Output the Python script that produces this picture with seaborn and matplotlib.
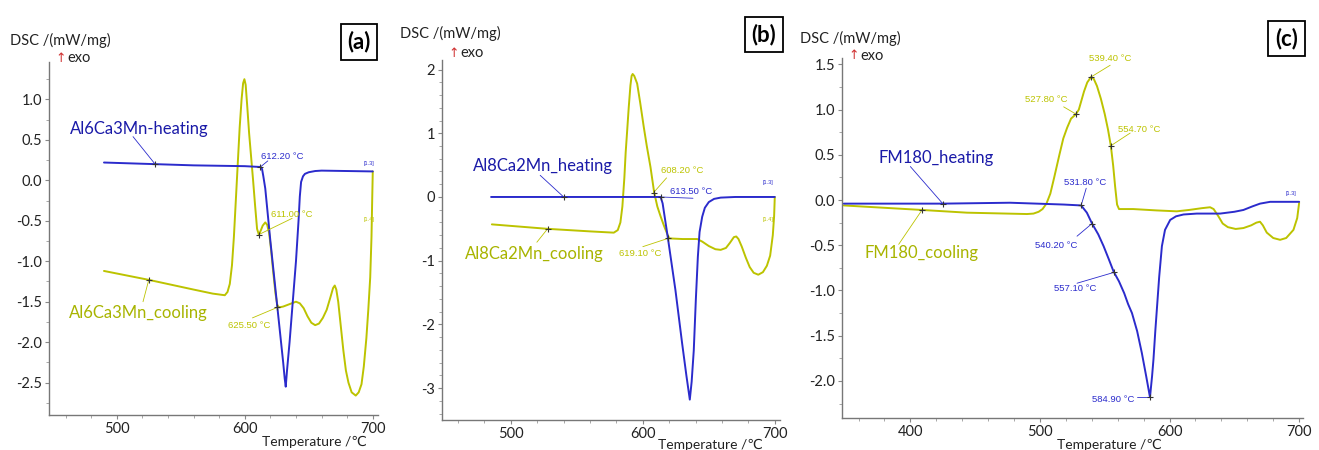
import matplotlib
matplotlib.use("Agg")
import matplotlib.pyplot as plt
import seaborn as sns
from matplotlib.ticker import MultipleLocator

# ---------------- data ----------------
# Panel (a) Al6Ca3Mn
a_heat_T = [490, 500, 520, 540, 560, 580, 600, 612.2, 613.5, 614.5, 616, 620, 624, 628, 630, 631.2, 632,
            633, 635, 637.5, 640, 642, 643, 644, 645.5, 647, 650, 655, 660, 680, 700]
a_heat_dsc = [0.22, 0.215, 0.205, 0.195, 0.185, 0.18, 0.175, 0.165, 0.14, 0.05, -0.1, -0.75, -1.35, -1.95, -2.25, -2.45, -2.55,
              -2.35, -2.0, -1.5, -1.0, -0.5, -0.2, -0.02, 0.05, 0.08, 0.1, 0.115, 0.12, 0.115, 0.11]
a_cool_T = [490, 525, 560, 575, 584.4, 586.5, 588.3, 590, 591.5, 593, 594.5, 596, 597.5, 598.7, 599.7,
            600.7, 602, 603.4, 605, 606.5, 608, 609.6, 611, 612.5, 614, 616, 617.5, 619, 620.5, 622, 624,
            625.5, 627, 630, 635, 640, 643, 646, 649, 652, 655, 658, 661, 664, 667, 669, 670.3, 671.5,
            673, 675, 677, 679, 681, 683.5, 686.7, 689, 691.2, 693, 695, 696.5, 698, 699, 699.6, 700]
a_cool_dsc = [-1.12, -1.23, -1.35, -1.4, -1.42, -1.38, -1.28, -1.05, -0.7, -0.25, 0.2, 0.65, 1.0, 1.2, 1.25,
              1.18, 0.9, 0.58, 0.28, 0.0, -0.3, -0.6, -0.67, -0.62, -0.56, -0.52, -0.55, -0.65, -0.85, -1.1, -1.4,
              -1.55, -1.57, -1.56, -1.53, -1.5, -1.52, -1.58, -1.68, -1.76, -1.79, -1.77, -1.7, -1.6, -1.44, -1.33, -1.3, -1.35,
              -1.5, -1.8, -2.1, -2.35, -2.5, -2.62, -2.66, -2.62, -2.52, -2.3, -1.95, -1.6, -1.2, -0.7, -0.2, 0.11]

# Panel (b) Al8Ca2Mn
b_heat_T = [485, 520, 560, 600, 613.5, 615, 618.9, 624.7, 629.8, 633, 635.6, 637, 638.6, 640.2, 641.7,
            643, 645, 647, 650, 654, 659, 670, 700]
b_heat_dsc = [0.0, 0.0, 0.0, 0.0, 0.0, -0.1, -0.63, -1.46, -2.3, -2.8, -3.18, -2.9, -2.41, -1.6, -0.94,
              -0.55, -0.31, -0.17, -0.08, -0.03, -0.01, 0.0, 0.0]
b_cool_T = [485.6, 527.8, 560, 578, 581, 583, 584.5, 586, 587, 588, 589.3, 590.6, 591.5, 592.3, 593.5,
            595.7, 598, 600.7, 603, 605.8, 608.6, 611, 613.4, 616, 618.5, 620, 630, 641.2, 645, 650, 655,
            659, 663, 666, 669, 670.8, 672.5, 675, 678, 681, 684, 687.5, 691, 694, 696.5, 698.5, 699.5, 700]
b_cool_dsc = [-0.43, -0.5, -0.54, -0.56, -0.52, -0.4, -0.15, 0.3, 0.7, 1.0, 1.4, 1.75, 1.9, 1.93, 1.9,
              1.78, 1.48, 1.1, 0.8, 0.47, 0.07, -0.15, -0.3, -0.45, -0.58, -0.65, -0.66, -0.66, -0.7, -0.77, -0.82,
              -0.83, -0.8, -0.72, -0.63, -0.62, -0.66, -0.78, -0.95, -1.1, -1.19, -1.22, -1.18, -1.08, -0.92, -0.6, -0.3, 0.0]

# Panel (c) FM180
c_heat_T = [348.6, 425, 477, 518.2, 531.8, 536.2, 540.2, 545, 549.1, 553, 556.8, 561, 565, 568, 571, 575,
            578.6, 582, 584.9, 586.5, 587.6, 589, 590.2, 592, 594.1, 596.5, 600.5, 605, 610.8, 621, 639, 650,
            657, 664, 669.8, 677.6, 700]
c_heat_dsc = [-0.04, -0.04, -0.03, -0.05, -0.06, -0.14, -0.26, -0.38, -0.51, -0.65, -0.79, -0.9, -1.03, -1.15, -1.25, -1.45,
              -1.69, -1.95, -2.18, -1.95, -1.76, -1.45, -1.21, -0.85, -0.51, -0.33, -0.22, -0.18, -0.16, -0.15, -0.15, -0.13,
              -0.11, -0.07, -0.04, -0.02, -0.02]
c_cool_T = [348.6, 409, 443.7, 490, 495, 499, 502, 505, 508, 511, 515, 518, 521, 524, 527.8, 530, 532, 534,
            536.5, 539.4, 541.5, 544, 547, 550, 552.5, 554.7, 556.5, 558, 559.5, 561, 572, 590, 605.6, 615, 625,
            631.3, 634, 637.7, 641, 645, 651, 657, 663, 667, 669.8, 672, 675, 680, 685.3, 690, 695.6, 698.5, 700]
c_cool_dsc = [-0.06, -0.11, -0.14, -0.155, -0.15, -0.13, -0.1, -0.04, 0.07, 0.25, 0.5, 0.68, 0.8, 0.9, 0.95, 1.0, 1.1, 1.2,
              1.3, 1.36, 1.34, 1.26, 1.12, 0.95, 0.78, 0.6, 0.38, 0.15, -0.05, -0.1, -0.1, -0.115, -0.125, -0.11, -0.09,
              -0.08, -0.1, -0.18, -0.26, -0.3, -0.32, -0.31, -0.28, -0.25, -0.24, -0.28, -0.36, -0.42, -0.44, -0.42, -0.33, -0.2, -0.03]

# annotated characteristic temperatures: (T, DSC at point, text x, text y, leader end x, leader end y)
a_heat_marks = [(612.2, 0.165, 612.8, 0.30, 618, 0.24)]
a_cool_marks = [(611.0, -0.67, 620.8, -0.42, 637, -0.47), (625.5, -1.57, 587, -1.79, 606, -1.70)]
b_heat_marks = [(613.5, 0.0, 620.4, 0.08, 638, -0.02)]
b_cool_marks = [(608.2, 0.07, 614.1, 0.41, 618, 0.3), (619.1, -0.65, 581.7, -0.89, 600, -0.78)]
c_heat_marks = [(531.8, -0.06, 518.2, 0.19, 535.7, 0.13), (540.2, -0.26, 495.9, -0.50, 528.6, -0.40),
                (557.1, -0.80, 510.5, -0.98, 528.6, -0.92), (584.9, -2.18, 540.1, -2.20, 574.8, -2.18)]
c_cool_marks = [(539.4, 1.36, 537.5, 1.57, 554.2, 1.49), (527.8, 0.95, 488.2, 1.11, 518.3, 1.03),
                (554.7, 0.60, 559.9, 0.78, 569.6, 0.74)]

series_names = {
    "a": ("Al6Ca3Mn-heating", "Al6Ca3Mn_cooling"),
    "b": ("Al8Ca2Mn_heating", "Al8Ca2Mn_cooling"),
    "c": ("FM180_heating", "FM180_cooling"),
}

BLUE = "#2b2bcc"
YEL = "#bcc300"

sns.set_style("ticks")
plt.rcParams["font.family"] = ["Lato", "DejaVu Sans"]

fig = plt.figure(figsize=(13.19, 4.5), dpi=100)

panels = [
    dict(key="a", rect=[0.0371, 0.0778, 0.2494, 0.784], xlim=(447, 704), ylim=(-2.9, 1.46),
         yticks=[1.0, 0.5, 0.0, -0.5, -1.0, -1.5, -2.0, -2.5], yfmt="{:.1f}", yminor=0.25,
         xticks=[500, 600, 700],
         heat=(a_heat_T, a_heat_dsc), cool=(a_cool_T, a_cool_dsc),
         hm=a_heat_marks, cm=a_cool_marks,
         hlab=(463.3, 0.64, 512.7, 0.54, 529.7, 0.205), clab=(462.5, -1.64, 520.5, -1.5, 525, -1.23),
         tags=[(697, 0.21, BLUE, "[1.3]"), (697, -0.48, YEL, "[1.4]")],
         dsc=(0.0076, 0.911), exo=(0.0417, 0.871), temp=(0.1986, 0.017), box=(0.2722, 0.9067)),
    dict(key="b", rect=[0.3351, 0.0667, 0.2563, 0.80], xlim=(447.8, 704), ylim=(-3.5, 2.15),
         yticks=[2, 1, 0, -1, -2, -3], yfmt="{:.0f}", yminor=0.2,
         xticks=[500, 600, 700],
         heat=(b_heat_T, b_heat_dsc), cool=(b_cool_T, b_cool_dsc),
         hm=b_heat_marks, cm=b_cool_marks,
         hlab=(471.6, 0.49, 522.2, 0.34, 540, 0.0), clab=(465.3, -0.9, 519.7, -0.71, 527.8, -0.5),
         tags=[(695, 0.22, BLUE, "[1.3]"), (695, -0.35, YEL, "[1.4]")],
         dsc=(0.3033, 0.9267), exo=(0.3397, 0.882), temp=(0.4985, 0.012), box=(0.5792, 0.9244)),
    dict(key="c", rect=[0.6384, 0.0711, 0.3495, 0.80], xlim=(347.3, 703), ylim=(-2.41, 1.57),
         yticks=[1.5, 1.0, 0.5, 0.0, -0.5, -1.0, -1.5, -2.0], yfmt="{:.1f}", yminor=0.25,
         xticks=[400, 500, 600, 700],
         heat=(c_heat_T, c_heat_dsc), cool=(c_cool_T, c_cool_dsc),
         hm=c_heat_marks, cm=c_cool_marks,
         hlab=(375.6, 0.47, 400, 0.37, 425, -0.04), clab=(364.5, -0.59, 391, -0.49, 409, -0.11),
         tags=[(694, 0.07, BLUE, "[1.3]")],
         dsc=(0.6065, 0.9156), exo=(0.643, 0.876), temp=(0.8014, 0.012), box=(0.9754, 0.9144)),
]

for p in panels:
    ax = fig.add_axes(p["rect"])
    hT, hD = p["heat"]
    cT, cD = p["cool"]
    sns.lineplot(x=cT, y=cD, ax=ax, color=YEL, linewidth=1.4, sort=False, estimator=None)
    sns.lineplot(x=hT, y=hD, ax=ax, color=BLUE, linewidth=1.4, sort=False, estimator=None)
    ax.set_xlim(*p["xlim"])
    ax.set_ylim(*p["ylim"])
    ax.set_xticks(p["xticks"])
    ax.set_xticklabels([str(t) for t in p["xticks"]])
    ax.set_yticks(p["yticks"])
    ax.set_yticklabels([p["yfmt"].format(t) for t in p["yticks"]])
    ax.xaxis.set_minor_locator(MultipleLocator(20))
    ax.yaxis.set_minor_locator(MultipleLocator(p["yminor"]))
    ax.tick_params(axis="both", which="major", labelsize=10.5, length=3, width=0.8,
                   color="#888888", labelcolor="#222222", pad=2)
    ax.tick_params(axis="both", which="minor", length=2, width=0.6, color="#999999")
    ax.set_xlabel("")
    ax.set_ylabel("")
    sns.despine(ax=ax)
    for s in ("left", "bottom"):
        ax.spines[s].set_color("#777777")
        ax.spines[s].set_linewidth(1.0)

    # characteristic temperature annotations
    for marks, col in ((p["hm"], BLUE), (p["cm"], YEL)):
        for (T, D, tx, ty, lx, ly) in marks:
            ax.plot([T, lx], [D, ly], color=col, linewidth=0.6)
            ax.plot([T], [D], marker="+", color="#333333", markersize=4, markeredgewidth=0.8)
            ax.text(tx, ty, f"{T:.2f} °C", color=col, fontsize=6.8, ha="left", va="center",
                    family=["Liberation Sans", "DejaVu Sans"], clip_on=False)

    # curve name labels with leaders
    hn, cn = series_names[p["key"]]
    x0, y0, lx0, ly0, px, py = p["hlab"]
    ax.text(x0, y0, hn, color="#1a1aa8", fontsize=12, ha="left", va="center")
    ax.plot([lx0, px], [ly0, py], color=BLUE, linewidth=0.6)
    ax.plot([px], [py], marker="+", color="#333333", markersize=4, markeredgewidth=0.8)
    x1, y1, lx1, ly1, qx, qy = p["clab"]
    ax.text(x1, y1, cn, color="#a8b400", fontsize=12, ha="left", va="center")
    ax.plot([lx1, qx], [ly1, qy], color=YEL, linewidth=0.6)
    ax.plot([qx], [qy], marker="+", color="#333333", markersize=4, markeredgewidth=0.8)

    for (tx, ty, col, s) in p["tags"]:
        ax.text(tx, ty, s, color=col, fontsize=4, ha="center", va="center",
                family=["Liberation Sans", "DejaVu Sans"])

    # header/footer texts
    fig.text(p["dsc"][0], p["dsc"][1], "DSC /(mW/mg)", fontsize=10.5, color="#222222",
             ha="left", va="center")
    fig.text(p["exo"][0], p["exo"][1], "↑", fontsize=9, color="#d03030", ha="left", va="center",
             family=["DejaVu Sans"])
    fig.text(p["exo"][0] + 0.0095, p["exo"][1], "exo", fontsize=10.5, color="#222222",
             ha="left", va="center")
    fig.text(p["temp"][0], p["temp"][1], "Temperature /℃", fontsize=10, color="#222222",
             ha="left", va="center", family=["Lato", "DejaVu Sans"])
    fig.text(p["box"][0], p["box"][1], f"({p['key']})", fontsize=16, fontweight="bold",
             ha="center", va="center", color="black",
             bbox=dict(boxstyle="square,pad=0.3", facecolor="white", edgecolor="black", linewidth=1.3))

fig.savefig("out.png", dpi=100)
